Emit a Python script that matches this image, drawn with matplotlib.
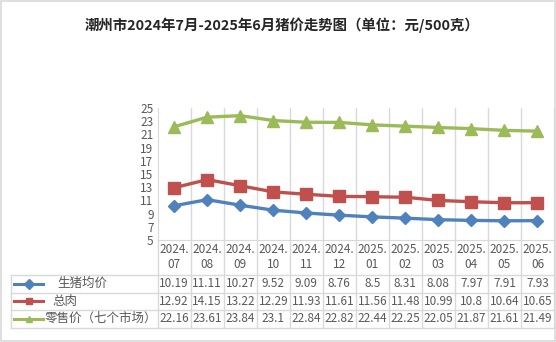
import matplotlib
matplotlib.use('Agg')
import matplotlib.pyplot as plt
from matplotlib.transforms import blended_transform_factory
from matplotlib.lines import Line2D
from matplotlib.patches import Rectangle

plt.rcParams['font.family'] = ['Noto Sans CJK SC', 'DejaVu Sans']

# data
months = ['2024.\n07', '2024.\n08', '2024.\n09', '2024.\n10', '2024.\n11', '2024.\n12',
          '2025.\n01', '2025.\n02', '2025.\n03', '2025.\n04', '2025.\n05', '2025.\n06']
hog = [10.19, 11.11, 10.27, 9.52, 9.09, 8.76, 8.5, 8.31, 8.08, 7.97, 7.91, 7.93]
pork = [12.92, 14.15, 13.22, 12.29, 11.93, 11.61, 11.56, 11.48, 10.99, 10.8, 10.64, 10.65]
retail = [22.16, 23.61, 23.84, 23.1, 22.84, 22.82, 22.44, 22.25, 22.05, 21.87, 21.61, 21.49]
names = ['生猪均价', '总肉', '零售价（七个市场）']
title = '潮州市2024年7月-2025年6月猪价走势图（单位：元/500克）'

colors = ['#4F81BD', '#C0504D', '#9BBB59']
markers = ['D', 's', '^']
msizes = [6, 8, 9]
series = [hog, pork, retail]

W, H = 556, 342
fig = plt.figure(figsize=(W / 100, H / 100), dpi=100)

def fy(py):
    return 1 - py / H

def fx(px):
    return px / W

x0, x1 = 157.7, 554
ytop, ybot = 108, 240
ax = fig.add_axes([fx(x0), fy(ybot), fx(x1 - x0), (ybot - ytop) / H])

grid = '#D9D9D9'
txt = '#595959'
n = len(months)
xs = list(range(n))

for s, c, m, ms in zip(series, colors, markers, msizes):
    ax.plot(xs, s, color=c, lw=2.4, marker=m, markersize=ms, zorder=3)

ax.set_xlim(-0.5, n - 0.5)
ax.set_ylim(5, 25)
ax.set_yticks(range(5, 26, 2))
ax.tick_params(axis='y', length=0, labelsize=8.5, labelcolor=txt, pad=3)
ax.set_xticks([])
for sp in ['top', 'right']:
    ax.spines[sp].set_visible(False)
ax.spines['left'].set_color(grid)
ax.spines['bottom'].set_color(grid)

# vertical grid lines through plot and table
tr = blended_transform_factory(ax.transData, fig.transFigure)
for i in range(n):
    xb = i + 0.5
    ax.add_line(Line2D([xb, xb], [fy(ytop), fy(327.5)], transform=tr,
                       color=grid, lw=1, clip_on=False, zorder=1))
ax.add_line(Line2D([-0.5, -0.5], [fy(ybot), fy(327.5)], transform=tr,
                   color=grid, lw=1, clip_on=False))

# table horizontal lines
rows = [275, 292.5, 310, 327.5]
for r in rows:
    fig.add_artist(Line2D([fx(11), fx(x1)], [fy(r), fy(r)], color=grid, lw=1))
fig.add_artist(Line2D([fx(11), fx(11)], [fy(275), fy(327.5)], color=grid, lw=1))

# category labels
for i, lab in enumerate(months):
    ax.text(i, fy(257), lab, transform=tr, ha='center', va='center',
            fontsize=8.5, color=txt, linespacing=1.25)

# values
for k, s in enumerate(series):
    yc = (rows[k] + rows[k + 1]) / 2
    for i, v in enumerate(s):
        ax.text(i, fy(yc), f'{v:g}', transform=tr, ha='center', va='center',
                fontsize=8.5, color=txt)

# legend keys
name_x = [57, 52, 45]
for k, (nm, c, m) in enumerate(zip(names, colors, markers)):
    yc = fy((rows[k] + rows[k + 1]) / 2)
    fig.add_artist(Line2D([fx(14), fx(43)], [yc, yc], color=c, lw=2.2))
    fig.add_artist(Line2D([fx(28.5)], [yc], color=c, marker=m, markersize=5, lw=0))
    fig.text(fx(name_x[k]), yc, nm, ha='left', va='center', fontsize=9, color=txt)

fig.text(fx(282), fy(25), title, ha='center', va='center', fontsize=10.4,
         fontweight='bold', color='#262626')

fig.add_artist(Rectangle((0.001, 0.002), 0.997, 0.995, transform=fig.transFigure,
                         fill=False, edgecolor=grid, lw=1.2))

fig.savefig('out.png', dpi=100)
